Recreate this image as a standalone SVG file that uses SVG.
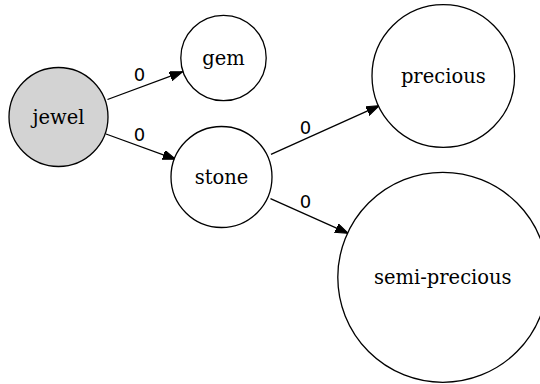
<svg xmlns="http://www.w3.org/2000/svg" width="540" height="384" viewBox="0 0 540 384">
<style>
.n{fill:#fff;stroke:#000;stroke-width:1.3}
.t{font-family:"DejaVu Serif",serif;font-size:19.5px;text-anchor:middle;fill:#000}
.l{font-family:"DejaVu Sans",sans-serif;font-size:18px;text-anchor:middle;fill:#000}
.e{fill:none;stroke:#000;stroke-width:1.3}
</style>
<defs>
<marker id="ah" markerUnits="userSpaceOnUse" markerWidth="14" markerHeight="10" refX="13" refY="4.7" orient="auto">
<path d="M0,0 L13,4.7 L0,9.4 z" fill="#000" stroke="#000" stroke-width="1"/>
</marker>
</defs>
<rect width="540" height="384" fill="#fff"/>
<g id="edges">
<path class="e" d="M107.5,99.5 L182.7,71.7" marker-end="url(#ah)"/>
<text class="l" x="139.5" y="80.5">0</text>
<path class="e" d="M106,134 L175.7,159.3" marker-end="url(#ah)"/>
<text class="l" x="139.5" y="140.5">0</text>
<path class="e" d="M271,154.3 L379.3,105.7" marker-end="url(#ah)"/>
<text class="l" x="305.5" y="134">0</text>
<path class="e" d="M270.5,198.7 L348.3,233.3" marker-end="url(#ah)"/>
<text class="l" x="305.5" y="207.5">0</text>
</g>
<g id="jewel"><circle class="n" cx="58.5" cy="117" r="49.5" style="fill:#d3d3d3"/><text class="t" x="58.5" y="123.5">jewel</text></g>
<g id="gem"><circle class="n" cx="223.5" cy="58" r="42.7"/><text class="t" x="223.5" y="64.5">gem</text></g>
<g id="stone"><circle class="n" cx="221.5" cy="177" r="50.5"/><text class="t" x="221.5" y="183.5">stone</text></g>
<g id="precious"><circle class="n" cx="443.3" cy="76" r="71.3"/><text class="t" x="443.3" y="82.5">precious</text></g>
<g id="semi-precious"><circle class="n" cx="442.8" cy="277.3" r="105"/><text class="t" x="442.8" y="283.8">semi-precious</text></g>
</svg>
